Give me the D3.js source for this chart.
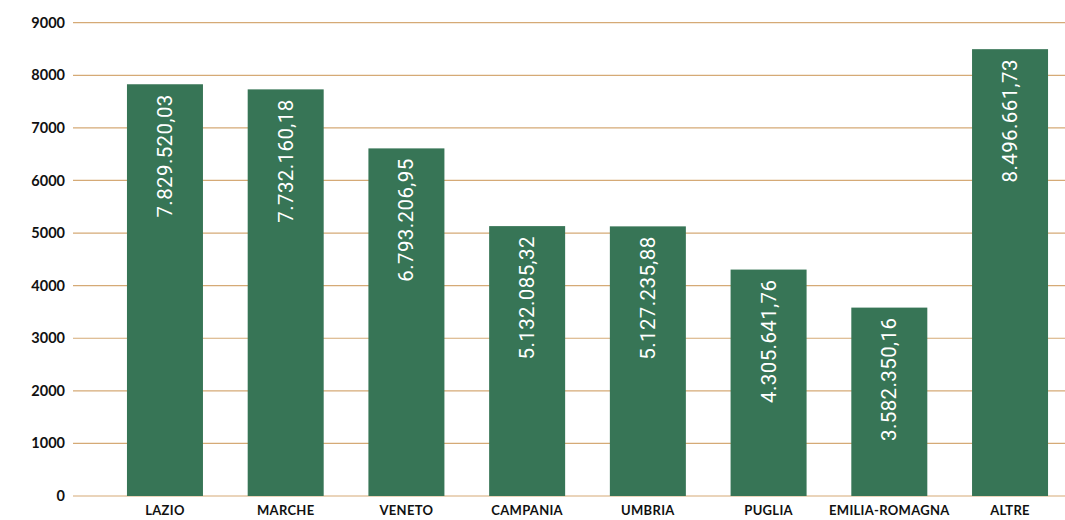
<!DOCTYPE html>
<html><head><meta charset="utf-8">
<script src="https://cdn.jsdelivr.net/npm/d3@7"></script>
<style>body{margin:0;background:#fff}svg{display:block}</style>
</head><body><svg id="c" width="1065" height="520"></svg>
<script>
const categories = ["LAZIO","MARCHE","VENETO","CAMPANIA","UMBRIA","PUGLIA","EMILIA-ROMAGNA","ALTRE"];
const values = [7829.5, 7732.2, 6610, 5132.1, 5127.2, 4305.6, 3582.4, 8496.7];
const valueLabels = ["7.829.520,03","7.732.160,18","6.793.206,95","5.132.085,32","5.127.235,88","4.305.641,76","3.582.350,16","8.496.661,73"];
const yTicks = [0,1000,2000,3000,4000,5000,6000,7000,8000,9000];

const svg = d3.select("#c");
const x = d3.scaleBand().domain(categories).range([104.6, 1070.4]).paddingInner(0.37).paddingOuter(0.185);
const y = d3.scaleLinear().domain([0, 9000]).range([496, 22.7]);

// gridlines
svg.append("g").selectAll("line").data(yTicks).join("line")
  .attr("x1", 73).attr("x2", 1065)
  .attr("y1", d => y(d)).attr("y2", d => y(d))
  .attr("stroke", "#d5aa76").attr("stroke-width", 1.2);

// y tick labels
svg.append("g").selectAll("text").data(yTicks).join("text")
  .attr("x", 65).attr("y", d => y(d)).attr("dy", "0.35em")
  .attr("text-anchor", "end")
  .attr("font-family", "Lato, 'DejaVu Sans', sans-serif").attr("font-weight", "bold")
  .attr("font-size", 14.5).attr("fill", "#111")
  .text(d => d);

// bars
const bw = 76;
svg.append("g").selectAll("rect").data(values).join("rect")
  .attr("x", (d,i) => x(categories[i]) + x.bandwidth()/2 - bw/2)
  .attr("width", bw)
  .attr("y", d => y(d))
  .attr("height", d => y(0) - y(d))
  .attr("fill", "#377556");

// value labels
svg.append("g").selectAll("text").data(values).join("text")
  .attr("transform", (d,i) => `translate(${x(categories[i]) + x.bandwidth()/2 + 7},${y(d) + 10}) rotate(-90)`)
  .attr("text-anchor", "end")
  .attr("font-family", "Roboto, 'Liberation Sans', sans-serif")
  .attr("font-size", 20.5).attr("letter-spacing", 0.4).attr("fill", "#fff")
  .text((d,i) => valueLabels[i]);

// category labels
svg.append("g").selectAll("text").data(categories).join("text")
  .attr("x", d => x(d) + x.bandwidth()/2).attr("y", 515)
  .attr("text-anchor", "middle")
  .attr("font-family", "Lato, 'DejaVu Sans', sans-serif").attr("font-weight", "bold")
  .attr("font-size", 13).attr("letter-spacing", 0.3).attr("fill", "#111")
  .text(d => d);
</script></body></html>
